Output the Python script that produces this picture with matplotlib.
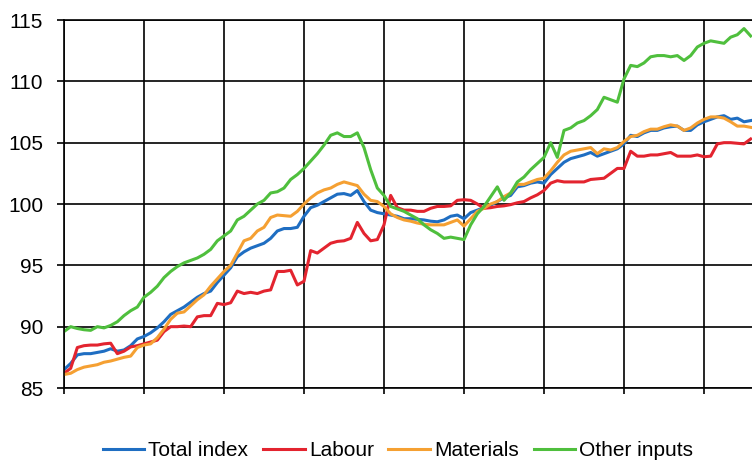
import matplotlib
matplotlib.use("Agg")
import matplotlib.pyplot as plt

# monthly index values (one point per month)
total_index = [
    86.5, 87.0, 87.7, 87.8, 87.8, 87.9, 88.0, 88.2, 88.0, 88.1, 88.45, 89.0,
    89.2, 89.5, 89.9, 90.4, 91.0, 91.3, 91.6, 92.0, 92.4, 92.7, 92.9, 93.6,
    94.2, 94.8, 95.7, 96.1, 96.4, 96.6, 96.8, 97.2, 97.8, 98.0, 98.0, 98.1,
    99.0, 99.7, 99.9, 100.2, 100.5, 100.8, 100.85, 100.7, 101.1, 100.2, 99.5, 99.3,
    99.2, 99.1, 99.0, 98.8, 98.8, 98.75, 98.7, 98.6, 98.55, 98.7, 99.0, 99.1,
    98.8, 99.3, 99.5, 99.7, 99.9, 100.2, 100.5, 100.7, 101.4, 101.5, 101.7, 101.8,
    101.7, 102.4, 102.9, 103.4, 103.7, 103.85, 104.0, 104.2, 103.9, 104.1, 104.3, 104.5,
    104.9, 105.6, 105.5, 105.8, 106.0, 106.0, 106.2, 106.3, 106.35, 106.0, 106.0, 106.45,
    106.7, 106.9, 107.1, 107.2, 106.9, 107.0, 106.7, 106.8,
]
labour = [
    86.2, 86.6, 88.3, 88.45, 88.5, 88.5, 88.6, 88.65, 87.8, 88.0, 88.35, 88.45,
    88.6, 88.75, 88.9, 89.6, 90.0, 90.0, 90.05, 90.0, 90.8, 90.9, 90.9, 91.9,
    91.8, 91.95, 92.9, 92.7, 92.8, 92.7, 92.9, 93.0, 94.5, 94.5, 94.6, 93.4,
    93.7, 96.2, 96.0, 96.4, 96.8, 96.95, 97.0, 97.2, 98.5, 97.6, 97.0, 97.1,
    98.3, 100.7, 99.7, 99.5, 99.5, 99.4, 99.4, 99.65, 99.8, 99.8, 99.85, 100.3,
    100.35, 100.3, 100.0, 99.65, 99.7, 99.8, 99.85, 99.95, 100.1, 100.2, 100.5, 100.75,
    101.1, 101.7, 101.9, 101.8, 101.8, 101.8, 101.8, 102.0, 102.05, 102.1, 102.5, 102.9,
    102.9, 104.3, 103.9, 103.9, 104.0, 104.0, 104.1, 104.2, 103.9, 103.9, 103.9, 104.0,
    103.85, 103.9, 104.9, 105.0, 105.0, 104.95, 104.9, 105.3,
]
materials = [
    86.1, 86.2, 86.5, 86.7, 86.8, 86.9, 87.1, 87.2, 87.35, 87.5, 87.6, 88.3,
    88.5, 88.6, 89.1, 89.8, 90.6, 91.1, 91.2, 91.7, 92.2, 92.6, 93.3, 93.9,
    94.5, 95.0, 96.0, 97.0, 97.2, 97.8, 98.1, 98.9, 99.1, 99.05, 99.0, 99.4,
    100.0, 100.5, 100.9, 101.15, 101.3, 101.6, 101.8, 101.65, 101.5, 100.8, 100.3, 100.2,
    99.8, 99.2, 98.9, 98.7, 98.6, 98.45, 98.35, 98.3, 98.3, 98.3, 98.5, 98.7,
    98.2, 98.8, 99.4, 99.65, 100.0, 100.2, 100.6, 100.9, 101.6, 101.6, 101.8, 102.0,
    102.1, 102.7, 103.4, 104.0, 104.3, 104.4, 104.5, 104.6, 104.1, 104.5, 104.4, 104.6,
    105.1, 105.5, 105.6, 105.9, 106.1, 106.1, 106.3, 106.45, 106.35, 106.0, 106.2, 106.6,
    106.9, 107.1, 107.1, 107.0, 106.7, 106.35, 106.35, 106.25,
]
other_inputs = [
    89.6, 90.0, 89.85, 89.75, 89.7, 90.0, 89.9, 90.1, 90.4, 90.9, 91.3, 91.6,
    92.4, 92.8, 93.3, 94.0, 94.5, 94.9, 95.2, 95.4, 95.6, 95.9, 96.3, 97.0,
    97.4, 97.8, 98.7, 99.0, 99.5, 100.0, 100.3, 100.9, 101.0, 101.3, 102.0, 102.4,
    102.9, 103.5, 104.1, 104.8, 105.6, 105.8, 105.5, 105.5, 105.8, 104.6, 102.8, 101.3,
    100.7, 99.8, 99.6, 99.4, 99.1, 98.8, 98.3, 97.9, 97.6, 97.2, 97.3, 97.2,
    97.1, 98.3, 99.2, 99.8, 100.6, 101.4, 100.3, 100.9, 101.8, 102.2, 102.8, 103.3,
    103.8, 105.0, 103.8, 106.0, 106.2, 106.6, 106.8, 107.2, 107.7, 108.7, 108.5, 108.3,
    110.2, 111.3, 111.2, 111.5, 112.0, 112.1, 112.1, 112.0, 112.1, 111.7, 112.1, 112.8,
    113.1, 113.3, 113.2, 113.1, 113.6, 113.8, 114.3, 113.7,
]

series_names = ["Total index", "Labour", "Materials", "Other inputs"]
series_colors = ["#1f6ec2", "#e3242f", "#f5a032", "#4fbf3d"]
y_ticks = [85, 90, 95, 100, 105, 110, 115]

plt.rcParams["font.family"] = ["Liberation Sans", "DejaVu Sans"]

fig = plt.figure(figsize=(7.52, 4.62), dpi=100)
ax = fig.add_axes([64 / 752, 1 - 388 / 462, 1 - 64 / 752, (388 - 20) / 462])

months = range(len(total_index))
for vals, name, col in zip([total_index, labour, materials, other_inputs],
                           series_names, series_colors):
    ax.plot(months, vals, color=col, lw=2.2, label=name, solid_joinstyle="round")

ax.set_ylim(85, 115)
ax.set_xlim(0, 103.2)
ax.set_yticks(y_ticks)
ax.set_xticks(range(0, 104, 12))
ax.set_xticklabels([])
ax.grid(True, color="black", lw=1.2)
ax.set_axisbelow(True)
for side in ["left", "bottom", "top"]:
    ax.spines[side].set_linewidth(1.2)
ax.spines["right"].set_visible(False)
ax.tick_params(axis="y", length=5, width=1.2, pad=10, labelsize=15)
ax.tick_params(axis="x", length=4, width=1.2)

fig.legend(loc="center", bbox_to_anchor=(398 / 752, 1 - 451 / 462), ncol=4,
           frameon=False, fontsize=15, handlelength=2.0, handletextpad=0.2,
           columnspacing=0.7)

fig.savefig("out.png", dpi=100)
